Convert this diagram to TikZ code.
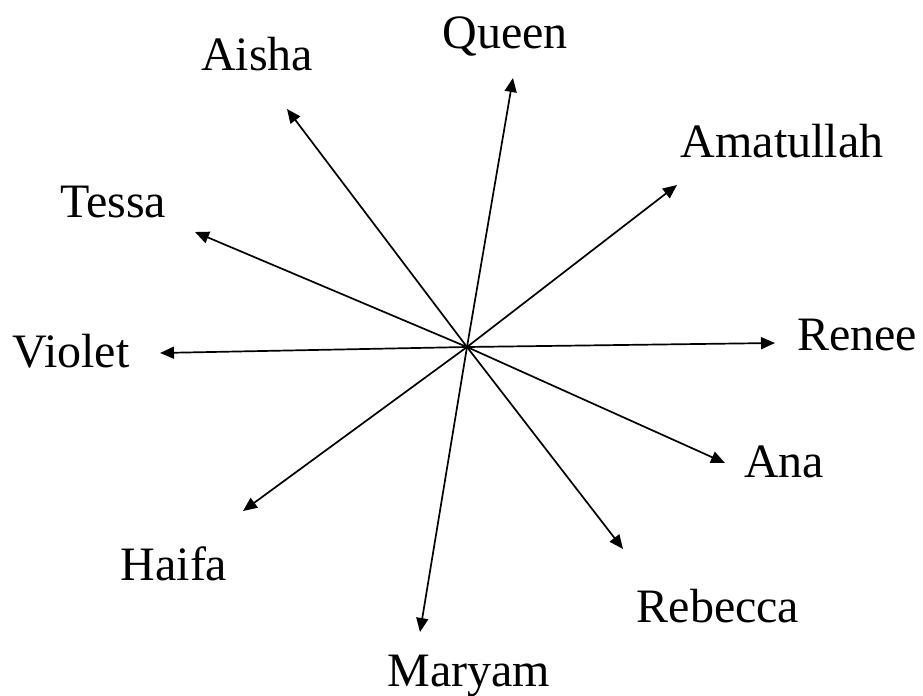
\documentclass[tikz,border=0pt]{standalone}
\usepackage{fontspec}
\setmainfont{Liberation Serif}
\usetikzlibrary{arrows.meta}
\begin{document}
\begin{tikzpicture}[x=0.5pt,y=-0.5pt,
  lbl/.style={anchor=base,inner sep=0pt,font=\fontsize{24}{28}\selectfont},
  ray/.style={line width=0.85pt,-{Triangle[length=7pt,width=6pt]}}]
\useasboundingbox (0,0) rectangle (923,696);
\coordinate (c) at (467,347);
\node[lbl] (queen) at (505,48) {Queen};
\node[lbl] (aisha) at (257,70) {Aisha};
\node[lbl] (amat) at (782,157) {Amatullah};
\node[lbl] (tessa) at (113,217) {Tessa};
\node[lbl] (violet) at (71,367) {Violet};
\node[lbl] (renee) at (857,350) {Renee};
\node[lbl] (ana) at (784,477) {Ana};
\node[lbl] (haifa) at (174,580) {Haifa};
\node[lbl] (rebecca) at (718,622) {Rebecca};
\node[lbl] (maryam) at (469,686) {Maryam};
\coordinate (tqueen) at (513,78);
\coordinate (taisha) at (287,109);
\coordinate (tamat) at (677,185);
\coordinate (ttessa) at (195,232);
\coordinate (tviolet) at (160,353);
\coordinate (trenee) at (775,343);
\coordinate (tana) at (725,463);
\coordinate (thaifa) at (243,511);
\coordinate (trebecca) at (623,549);
\coordinate (tmaryam) at (420,632);
\foreach \t in {tqueen,taisha,tamat,ttessa,tviolet,trenee,tana,thaifa,trebecca,tmaryam}
  \draw[ray] (c) -- (\t);
\end{tikzpicture}
\end{document}
